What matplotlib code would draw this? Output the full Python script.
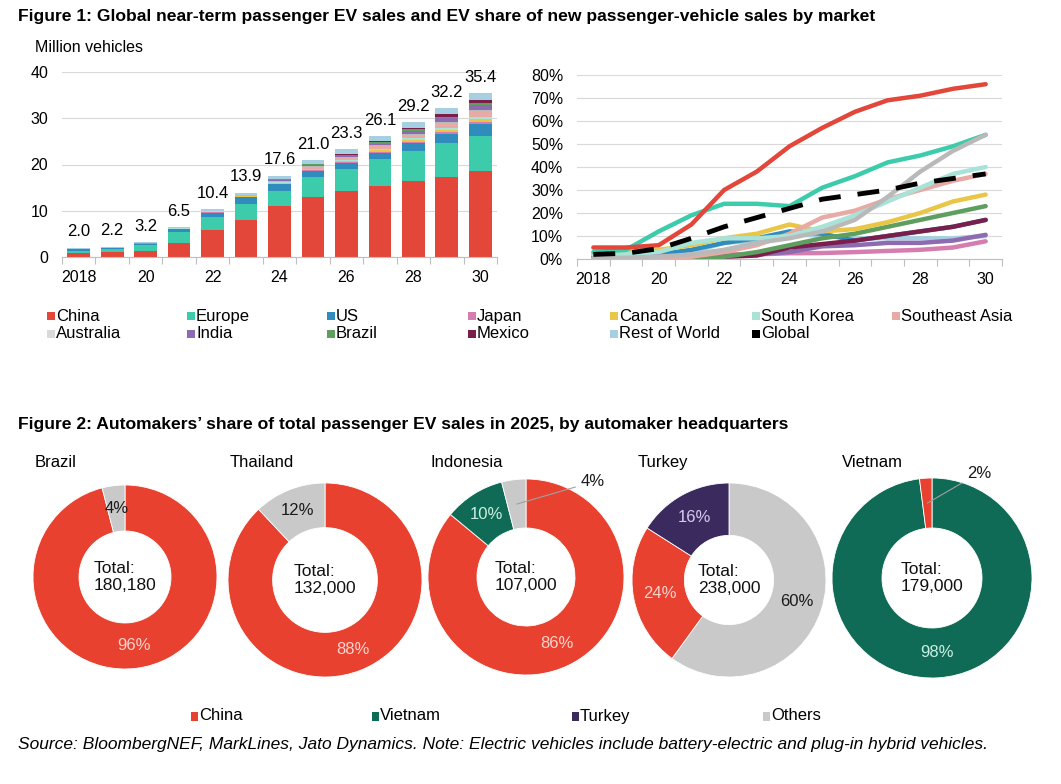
import matplotlib
matplotlib.use('Agg')
import matplotlib.pyplot as plt
import numpy as np
from matplotlib.patches import Rectangle

W, H = 1061, 784
plt.rcParams['font.family'] = ['Liberation Sans', 'DejaVu Sans']
NARROW = ['Liberation Sans Narrow', 'Liberation Sans', 'DejaVu Sans']

# ---------------- data: Figure 1 ----------------
years = list(range(2018, 2031))
year_labels = ['2018', '20', '22', '24', '26', '28', '30']
markets = ['China', 'Europe', 'US', 'Japan', 'Canada', 'South Korea', 'Southeast Asia',
           'Australia', 'India', 'Brazil', 'Mexico', 'Rest of World']

sales_china = [0.95, 1.1, 1.2, 3.1, 5.8, 8.0, 11.1, 13.0, 14.3, 15.4, 16.4, 17.4, 18.5]
sales_europe = [0.4, 0.55, 1.4, 2.2, 2.8, 3.4, 3.1, 4.2, 4.8, 5.8, 6.6, 7.2, 7.7]
sales_us = [0.35, 0.35, 0.3, 0.7, 1.0, 1.5, 1.5, 1.4, 1.2, 1.3, 1.6, 2.1, 2.6]
sales_japan = [0.03, 0.02, 0.02, 0.03, 0.05, 0.07, 0.1, 0.13, 0.17, 0.2, 0.26, 0.32, 0.4]
sales_canada = [0.04, 0.05, 0.04, 0.07, 0.1, 0.13, 0.18, 0.22, 0.27, 0.33, 0.42, 0.5, 0.6]
sales_korea = [0.03, 0.03, 0.05, 0.08, 0.12, 0.13, 0.15, 0.18, 0.22, 0.28, 0.35, 0.42, 0.5]
sales_sea = [0.0, 0.0, 0.01, 0.02, 0.05, 0.08, 0.3, 0.4, 0.55, 0.65, 0.85, 1.0, 1.2]
sales_australia = [0.01, 0.01, 0.01, 0.02, 0.03, 0.05, 0.1, 0.12, 0.15, 0.18, 0.22, 0.26, 0.3]
sales_india = [0.0, 0.0, 0.0, 0.01, 0.04, 0.08, 0.15, 0.22, 0.3, 0.4, 0.55, 0.75, 1.0]
sales_brazil = [0.0, 0.0, 0.0, 0.01, 0.02, 0.04, 0.12, 0.15, 0.2, 0.25, 0.33, 0.42, 0.5]
sales_mexico = [0.0, 0.0, 0.0, 0.01, 0.01, 0.02, 0.1, 0.15, 0.2, 0.3, 0.42, 0.5, 0.6]
sales_row = [0.19, 0.09, 0.17, 0.25, 0.38, 0.40, 0.7, 0.83, 0.94, 1.01, 1.2, 1.33, 1.5]
sales_totals = [2.0, 2.2, 3.2, 6.5, 10.4, 13.9, 17.6, 21.0, 23.3, 26.1, 29.2, 32.2, 35.4]

share_china = [5, 5, 6, 15, 30, 38, 49, 57, 64, 69, 71, 74, 76]
share_europe = [3, 4, 12, 19, 24, 24, 23, 31, 36, 42, 45, 49, 54]
share_us = [2, 2, 2, 4, 7, 9, 12, 11, 8, 10, 12, 14, 17]
share_japan = [1, 1, 1, 1.5, 2, 2, 2.5, 2.6, 3, 3.5, 4, 5, 7.7]
share_canada = [2, 3, 4, 6, 9, 11, 15, 12, 13, 16, 20, 25, 28]
share_korea = [2, 2, 3, 7, 9, 9, 10, 14, 19, 25, 31, 37, 40]
share_sea = [0.2, 0.2, 0.3, 1, 3, 6, 11, 18, 21, 26, 30, 34, 37]
share_australia = [0.5, 0.5, 1, 2, 4, 7, 9, 12, 17, 27, 38, 47, 54]
share_india = [0.2, 0.2, 0.3, 0.5, 1, 2, 3, 5.5, 6, 7, 7, 8, 10.5]
share_brazil = [0.1, 0.1, 0.2, 0.5, 1, 3, 6, 9, 11, 14, 17, 20, 23]
share_mexico = [0.5, 0.5, 0.5, 1, 1, 1.5, 5, 6.5, 8, 10, 12, 14, 17]
share_row = [1, 1, 1.5, 3, 7, 8, 11, 10, 9, 9, 9, 9, 10]
share_global = [2, 2.5, 4.5, 9, 14, 18, 22, 26, 28, 30, 33, 35, 37]

# ---------------- data: Figure 2 ----------------
donut_names = ['Brazil', 'Thailand', 'Indonesia', 'Turkey', 'Vietnam']
donut_totals = ['180,180', '132,000', '107,000', '238,000', '179,000']
brazil_labels = ['China', 'Others']
brazil_values = [96, 4]
thailand_labels = ['China', 'Others']
thailand_values = [88, 12]
indonesia_labels = ['China', 'Vietnam', 'Others']
indonesia_values = [86, 10, 4]
turkey_labels = ['Others', 'China', 'Turkey']
turkey_values = [60, 24, 16]
vietnam_labels = ['Vietnam', 'China']
vietnam_values = [98, 2]
hq_groups = ['China', 'Vietnam', 'Turkey', 'Others']

# ---------------- styles ----------------
market_colors = {
    'China': '#e2473a', 'Europe': '#3ccbab', 'US': '#2f8cbd', 'Japan': '#d67db0',
    'Canada': '#e9c646', 'South Korea': '#a9e3d8', 'Southeast Asia': '#e8aaa4',
    'Australia': '#b9b9b9', 'India': '#8e6bb0', 'Brazil': '#5e9e5e',
    'Mexico': '#7a1f4c', 'Rest of World': '#a6cfe2', 'Global': '#000000'}
legend_colors = dict(market_colors)
legend_colors['Australia'] = '#d9d9d9'
hq_colors = {'China': '#e8412f', 'Vietnam': '#0f6b55', 'Turkey': '#3a2a5e', 'Others': '#c9c9c9'}
GRID = '#d9d9d9'
AXIS = '#bfbfbf'


def fx(px):
    return px / W


def fy(py):
    return 1 - py / H


fig = plt.figure(figsize=(W / 100, H / 100), dpi=100)


def px_axes(x0, y0, x1, y1):
    return fig.add_axes([x0 / W, 1 - y1 / H, (x1 - x0) / W, (y1 - y0) / H])


# titles
fig.text(fx(18), fy(17), 'Figure 1: Global near-term passenger EV sales and EV share of new passenger-vehicle sales by market',
         family=NARROW, fontweight='bold', fontsize=12.6, va='center', ha='left')
fig.text(fx(18), fy(425), 'Figure 2: Automakers\u2019 share of total passenger EV sales in 2025, by automaker headquarters',
         family=NARROW, fontweight='bold', fontsize=12.6, va='center', ha='left')
fig.text(fx(35), fy(48), 'Million vehicles', fontsize=11.5, va='center', ha='left')


def style_cat_axis(ax):
    ax.set_xlim(2017.5, 2030.5)
    ax.set_xticks(years[::2])
    ax.set_xticklabels(year_labels)
    ax.set_xticks(np.arange(2017.5, 2031, 1), minor=True)
    ax.tick_params(axis='x', which='major', length=0, pad=9, labelsize=11.5)
    ax.tick_params(axis='x', which='minor', length=5, color=AXIS, width=0.8)
    ax.tick_params(axis='y', length=0, pad=10, labelsize=11.5)
    for s in ['top', 'right', 'left']:
        ax.spines[s].set_visible(False)
    ax.spines['bottom'].set_color(AXIS)
    ax.grid(axis='y', color=GRID, linewidth=0.8)
    ax.set_axisbelow(True)


# ---------------- bar chart ----------------
ax1 = px_axes(62, 72, 497, 257)
sales = [sales_china, sales_europe, sales_us, sales_japan, sales_canada, sales_korea, sales_sea,
         sales_australia, sales_india, sales_brazil, sales_mexico, sales_row]
bottom = np.zeros(len(years))
for m, vals in zip(markets, sales):
    ax1.bar(years, vals, bottom=bottom, width=0.68, color=market_colors[m], linewidth=0)
    bottom = bottom + np.array(vals)
for x, t in zip(years, sales_totals):
    ax1.annotate(f'{t:.1f}', (x, t), xytext=(0, 6), textcoords='offset points',
                 ha='center', va='bottom', fontsize=12)
ax1.set_ylim(0, 40)
ax1.set_yticks([0, 10, 20, 30, 40])
style_cat_axis(ax1)

# ---------------- line chart ----------------
ax2 = px_axes(577, 75, 1002, 259)
line_order = [('Rest of World', share_row), ('US', share_us), ('Japan', share_japan),
              ('India', share_india), ('Mexico', share_mexico), ('Brazil', share_brazil),
              ('Canada', share_canada), ('Southeast Asia', share_sea), ('South Korea', share_korea),
              ('Europe', share_europe), ('Australia', share_australia), ('China', share_china)]
for m, vals in line_order:
    ax2.plot(years, vals, color=market_colors[m], linewidth=3.2, solid_capstyle='round')
ax2.plot(years, share_global, color='black', linewidth=3.5, linestyle=(0, (4.5, 3.5)))
ax2.set_ylim(0, 80)
ax2.set_yticks(range(0, 81, 10))
ax2.set_yticklabels([f'{v}%' for v in range(0, 81, 10)])
style_cat_axis(ax2)

# ---------------- top legend ----------------
legend_rows = [['China', 'Europe', 'US', 'Japan', 'Canada', 'South Korea', 'Southeast Asia'],
               ['Australia', 'India', 'Brazil', 'Mexico', 'Rest of World', 'Global']]
col_x = [47, 187, 327, 468, 610, 752, 892]
row_y = [316, 334]
for r, row in enumerate(legend_rows):
    for c, name in enumerate(row):
        x0, y0 = col_x[c], row_y[r]
        fig.add_artist(Rectangle((fx(x0), fy(y0 + 4)), 8 / W, 8 / H, transform=fig.transFigure,
                                 facecolor=legend_colors[name], edgecolor='none'))
        fig.text(fx(x0 + 9), fy(y0), name, fontsize=12, va='center', ha='left')

# ---------------- donuts ----------------
donut_geom = [(125, 577, 92, 0.50), (325, 580, 97, 0.46), (526, 577, 98, 0.50),
              (729, 580, 97, 0.54), (932, 578, 100, 0.50)]
title_x = [35, 230, 430, 638, 842]
donut_labels = [brazil_labels, thailand_labels, indonesia_labels, turkey_labels, vietnam_labels]
donut_values = [brazil_values, thailand_values, indonesia_values, turkey_values, vietnam_values]
label_text_colors = {'China': '#fbd3cc', 'Vietnam': '#c9f0e2', 'Turkey': '#d9c9f2', 'Others': '#1a1a1a'}
outside = {('Indonesia', 'Others'): (0.56, 0.97), ('Vietnam', 'China'): (0.35, 1.05)}

for name, tot, labs, vals, (cx, cy, r, width), tx in zip(donut_names, donut_totals, donut_labels,
                                                        donut_values, donut_geom, title_x):
    ax = px_axes(cx - r, cy - r, cx + r, cy + r)
    wedges, _ = ax.pie(vals, colors=[hq_colors[l] for l in labs], startangle=90, counterclock=False,
                       radius=1, wedgeprops=dict(width=width, edgecolor='white', linewidth=0.6))
    ax.set_xlim(-1, 1)
    ax.set_ylim(-1, 1)
    ax.axis('off')
    rmid = 1 - width / 2
    for w, l, v in zip(wedges, labs, vals):
        ang = np.deg2rad((w.theta1 + w.theta2) / 2)
        px_, py_ = rmid * np.cos(ang), rmid * np.sin(ang)
        if (name, l) in outside:
            ax.annotate(f'{v}%', xy=(px_ * 1.0, py_), xytext=outside[(name, l)], ha='left', va='center',
                        fontsize=12, color='#1a1a1a',
                        arrowprops=dict(arrowstyle='-', color='#a0a0a0', lw=0.8, shrinkA=2, shrinkB=0))
        else:
            ax.text(px_, py_, f'{v}%', ha='center', va='center', fontsize=12,
                    color=label_text_colors[l])
    ax.text(0, 0, f'Total:\n{tot}', ha='center', va='center', multialignment='left',
            fontsize=12.5, linespacing=1.1, color='#111111')
    fig.text(fx(tx), fy(463), name, fontsize=12, ha='left', va='center')

# bottom legend
hq_x = [191, 372, 572, 763]
for g, x0 in zip(hq_groups, hq_x):
    fig.add_artist(Rectangle((fx(x0), fy(721)), 7 / W, 9 / H, transform=fig.transFigure,
                             facecolor=hq_colors[g], edgecolor='none'))
    fig.text(fx(x0 + 8), fy(716), g, family=NARROW, fontsize=12, va='center', ha='left')

fig.text(fx(18), fy(745), 'Source: BloombergNEF, MarkLines, Jato Dynamics. Note: Electric vehicles include '
         'battery-electric and plug-in hybrid vehicles.', family=NARROW, style='italic', fontsize=12.5,
         va='center', ha='left')

fig.savefig('out.png', dpi=100, facecolor='white')
